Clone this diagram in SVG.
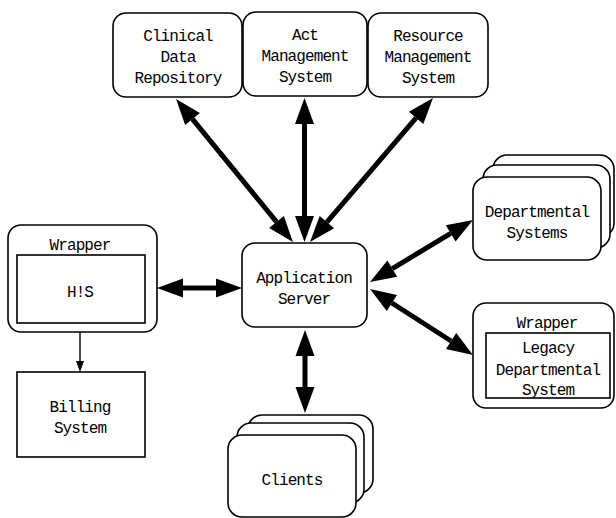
<svg xmlns="http://www.w3.org/2000/svg" width="616" height="518" viewBox="0 0 616 518">
<style>
  .box { fill: #fff; stroke: #000; stroke-width: 1.6; }
  .t { font-family: "Liberation Mono", "DejaVu Sans Mono", monospace; font-size: 16px; fill: #000; text-anchor: middle; letter-spacing: -0.9px; }
  .thick { stroke: #000; stroke-width: 5; fill: none; marker-start: url(#big); marker-end: url(#big); }
  .thin { stroke: #000; stroke-width: 1.4; fill: none; marker-end: url(#small); }
</style>
<defs>
  <marker id="big" markerUnits="userSpaceOnUse" markerWidth="28" markerHeight="20" refX="0" refY="10" orient="auto-start-reverse" overflow="visible">
    <path d="M0,0.5 L26,10 L0,19.5 z" fill="#000"/>
  </marker>
  <marker id="small" markerUnits="userSpaceOnUse" markerWidth="12" markerHeight="10" refX="0" refY="5" orient="auto" overflow="visible">
    <path d="M0,1 L11,5 L0,9 z" fill="#000"/>
  </marker>
</defs>
<rect width="616" height="518" fill="#fff"/>

<g id="connectors">
  <line class="thick" x1="192.5" y1="119.1" x2="276.5" y2="221.9"/>
  <line class="thick" x1="304.5" y1="124" x2="304.5" y2="216"/>
  <line class="thick" x1="416.1" y1="117.8" x2="326.9" y2="222.2"/>
  <line class="thick" x1="183" y1="288" x2="216" y2="288"/>
  <line class="thick" x1="392.3" y1="268.6" x2="450.7" y2="233.4"/>
  <line class="thick" x1="391.9" y1="303" x2="451.1" y2="341"/>
  <line class="thick" x1="305" y1="356" x2="305" y2="387"/>
  <line class="thin" x1="80" y1="323" x2="80" y2="361"/>
</g>

<g id="clinical">
  <rect class="box" x="113" y="13" width="129" height="84" rx="13"/>
  <text class="t" x="178" y="41">Clinical</text>
  <text class="t" x="178" y="62">Data</text>
  <text class="t" x="178" y="83">Repository</text>
</g>
<g id="act">
  <rect class="box" x="243" y="12" width="124" height="84" rx="13"/>
  <text class="t" x="305" y="40">Act</text>
  <text class="t" x="305" y="61">Management</text>
  <text class="t" x="305" y="82">System</text>
</g>
<g id="resource">
  <rect class="box" x="368" y="13" width="120" height="84" rx="13"/>
  <text class="t" x="428" y="41">Resource</text>
  <text class="t" x="428" y="62">Management</text>
  <text class="t" x="428" y="83">System</text>
</g>

<g id="appserver">
  <rect class="box" x="242" y="243" width="125" height="84" rx="13"/>
  <text class="t" x="304" y="283">Application</text>
  <text class="t" x="304" y="304">Server</text>
</g>

<g id="departmental">
  <rect class="box" x="493" y="155" width="121" height="82" rx="14"/>
  <rect class="box" x="483" y="165" width="127" height="83" rx="14"/>
  <rect class="box" x="473" y="177" width="128" height="83" rx="14"/>
  <text class="t" x="537" y="217">Departmental</text>
  <text class="t" x="537" y="238">Systems</text>
</g>

<g id="legacy">
  <rect class="box" x="473" y="303" width="141" height="105" rx="13"/>
  <text class="t" x="547" y="328">Wrapper</text>
  <rect class="box" x="486" y="333" width="124" height="65"/>
  <text class="t" x="548" y="353">Legacy</text>
  <text class="t" x="548" y="375">Departmental</text>
  <text class="t" x="548" y="395">System</text>
</g>

<g id="his">
  <rect class="box" x="8" y="225" width="149" height="107" rx="13"/>
  <text class="t" x="80" y="250">Wrapper</text>
  <rect class="box" x="17" y="255" width="128" height="68"/>
  <text class="t" x="80" y="297">H!S</text>
</g>

<g id="billing">
  <rect class="box" x="17" y="372" width="128" height="85"/>
  <text class="t" x="80" y="412">Billing</text>
  <text class="t" x="80" y="433">System</text>
</g>

<g id="clients">
  <rect class="box" x="248" y="415" width="125" height="78" rx="14"/>
  <rect class="box" x="237" y="423" width="127" height="80" rx="14"/>
  <rect class="box" x="228" y="435" width="128" height="82" rx="14"/>
  <text class="t" x="292" y="485">Clients</text>
</g>
</svg>
